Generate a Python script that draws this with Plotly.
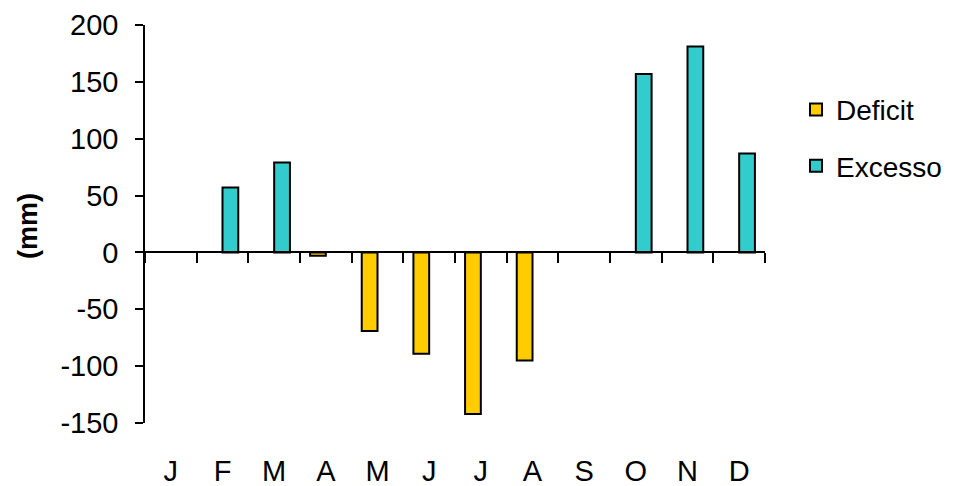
import plotly.graph_objects as go

months = ["Jan", "Fev", "Mar", "Abr", "Mai", "Jun", "Jul", "Ago", "Set", "Out", "Nov", "Dez"]
month_labels = ["J", "F", "M", "A", "M", "J", "J", "A", "S", "O", "N", "D"]
deficit = [None, None, None, -3, -69, -89, -142, -95, None, None, None, None]
excesso = [None, 57, 79, None, None, None, None, None, None, 157, 181, 87]
y_ticks = [-150, -100, -50, 0, 50, 100, 150, 200]
y_tick_labels = ["-150", "-100", "-50", "0", "50", "100", "150", "200"]

FONT = "Liberation Sans, Arial, sans-serif"

fig = go.Figure()
fig.add_trace(go.Bar(name="Deficit", x=months, y=deficit, xaxis="x", yaxis="y",
                     marker=dict(color="#FFCC00", line=dict(color="#000000", width=2)),
                     legendgroup="d"))
fig.add_trace(go.Bar(name="Excesso", x=months, y=excesso, xaxis="x", yaxis="y",
                     marker=dict(color="#33CCCC", line=dict(color="#000000", width=2)),
                     legendgroup="e"))
# invisible helper trace carrying the category labels axis at the bottom
fig.add_trace(go.Scatter(x=months, y=[0] * len(months), xaxis="x2", yaxis="y",
                         mode="markers", marker=dict(opacity=0), showlegend=False,
                         hoverinfo="skip"))

zero_pos = (0 - y_ticks[0]) / (y_ticks[-1] - y_ticks[0])

# page body has an 8px margin, so the figure is shrunk/shifted accordingly
fig.update_layout(
    width=946, height=478,
    margin=dict(l=137, r=189, t=17, b=63, autoexpand=False),
    paper_bgcolor="white", plot_bgcolor="white",
    font=dict(family=FONT, size=29, color="#000000"),
    barmode="group", bargap=0.39, bargroupgap=0,
    showlegend=True,
    legend=dict(x=1.05, y=0.85, xanchor="left", yanchor="top",
                traceorder="grouped", tracegroupgap=17,
                font=dict(family=FONT, size=28, color="#000000"),
                bgcolor="rgba(0,0,0,0)"),
    xaxis=dict(type="category", categoryorder="array", categoryarray=months,
               range=[-0.5, 11.5], anchor="free", position=zero_pos,
               showline=True, linecolor="#000000", linewidth=1.5,
               ticks="outside", ticklen=10, tickwidth=1.5, tickcolor="#000000",
               tickson="boundaries", showticklabels=False, showgrid=False,
               zeroline=False, fixedrange=True, automargin=False),
    xaxis2=dict(type="category", categoryorder="array", categoryarray=months,
                range=[-0.5, 11.5], overlaying="x", anchor="y", side="bottom",
                showline=False, ticks="", tickvals=months, ticktext=month_labels,
                ticklabelstandoff=28, showgrid=False, zeroline=False, automargin=False,
                tickfont=dict(family=FONT, size=29, color="#000000")),
    yaxis=dict(range=[y_ticks[0], y_ticks[-1]], tickvals=y_ticks, ticktext=y_tick_labels,
               showline=True, linecolor="#000000", linewidth=1.5,
               ticks="outside", ticklen=8, tickwidth=1.5, tickcolor="#000000",
               ticklabelstandoff=11, showgrid=False, zeroline=False, automargin=False,
               tickfont=dict(family=FONT, size=29, color="#000000")),
    annotations=[dict(text="<b>(mm)</b>", xref="paper", yref="paper",
                      x=(28 - 145) / 620, y=(423 - 226) / 398,
                      xanchor="center", yanchor="middle", textangle=-90,
                      showarrow=False, font=dict(family=FONT, size=27, color="#000000"))],
)

fig.write_html("out.html")
